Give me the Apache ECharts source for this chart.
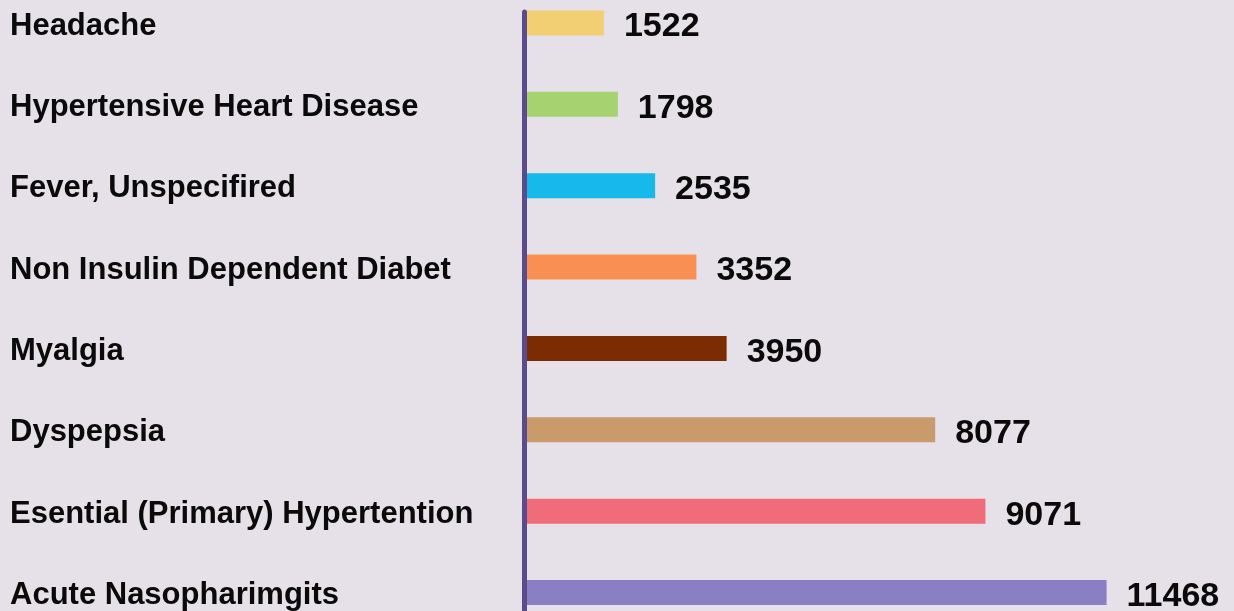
<!DOCTYPE html>
<html>
<head>
<meta charset="utf-8">
<script src="https://cdn.jsdelivr.net/npm/echarts@6/dist/echarts.min.js"></script>
<style>
  html, body { margin: 0; padding: 0; background: #e6e1e8; }
  #chart { width: 1234px; height: 611px; }
</style>
</head>
<body>
<div id="chart"></div>
<script>
// diagnoses, top to bottom
const categories = [
  "Headache",
  "Hypertensive Heart Disease",
  "Fever, Unspecifired",
  "Non Insulin Dependent Diabet",
  "Myalgia",
  "Dyspepsia",
  "Esential (Primary) Hypertention",
  "Acute Nasopharimgits",
];
const counts = [1522, 1798, 2535, 3352, 3950, 8077, 9071, 11468];
const barColors = [
  "#f2cf72", "#a6d36f", "#16b9ea", "#f98f52",
  "#7b2c02", "#c99b6b", "#f16c7b", "#8a7fc4",
];

const chart = echarts.init(document.getElementById("chart"));

const option = {
  backgroundColor: "#e6e1e8",
  animation: false,
  grid: [
    { left: 527, right: 50, top: 23, bottom: 16 },
    // only carries the tall vertical axis line
    { left: 524, right: 50, top: 12, bottom: 0 },
  ],
  xAxis: [
    { type: "value", min: 0, max: 13000, show: false },
    { type: "value", gridIndex: 1, show: false },
  ],
  yAxis: [
    {
      type: "category",
      data: categories,
      inverse: true,
      boundaryGap: false,
      axisLine: { show: false },
      axisTick: { show: false },
      axisLabel: {
        align: "left",
        margin: 517,
        // nudge the text a few pixels down to sit on the bar centre
        verticalAlign: "top",
        lineHeight: 6,
        color: "#0a0a0a",
        fontFamily: "Liberation Sans",
        fontWeight: "bold",
        fontSize: 31,
      },
    },
    {
      type: "value",
      gridIndex: 1,
      axisLine: { show: true, lineStyle: { color: "#5a4b8a", width: 5 } },
      axisTick: { show: false },
      axisLabel: { show: false },
      splitLine: { show: false },
    },
  ],
  series: [
    {
      type: "bar",
      barWidth: 25,
      data: counts.map((v, i) => ({
        value: v,
        itemStyle: { color: barColors[i] },
      })),
      label: {
        show: true,
        position: "right",
        distance: 20,
        offset: [0, 4],
        color: "#0a0a0a",
        fontFamily: "Liberation Sans",
        fontWeight: "bold",
        fontSize: 34,
      },
    },
  ],
};

chart.setOption(option);
</script>
</body>
</html>
